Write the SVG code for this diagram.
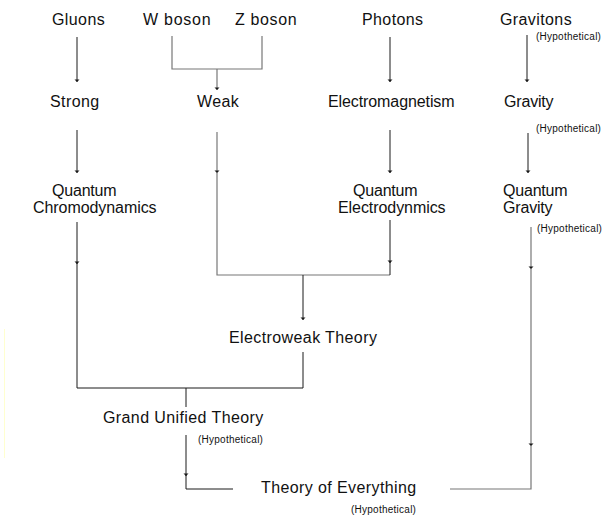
<svg xmlns="http://www.w3.org/2000/svg" width="604" height="515" viewBox="0 0 604 515">
<style>
text{font-family:"Liberation Sans",Arial,sans-serif;fill:#111;letter-spacing:0.4px}
.b{font-size:16px}
.h{font-size:10px;letter-spacing:0.25px}
.k{stroke:#1a1a1a;stroke-width:1;fill:none}
.g{stroke:#777;stroke-width:1.2;fill:none}
</style>
<defs>
<marker id="ah" markerUnits="userSpaceOnUse" markerWidth="6" markerHeight="6" refX="3" refY="3" orient="auto" viewBox="0 0 6 6">
<path d="M0.5,0.5 L3,3 L0.5,5.5 Z" fill="#1a1a1a"/>
</marker>
</defs>
<rect width="604" height="515" fill="#fff"/>
<line x1="4.5" y1="329" x2="4.5" y2="458" stroke="#ffffd0" stroke-width="1"/>
<g id="connectors">
<line class="k" x1="77" y1="37" x2="77" y2="82" marker-end="url(#ah)"/>
<path class="g" d="M172,36 V69 H262 V36"/>
<line class="g" x1="217" y1="69" x2="217" y2="90" marker-end="url(#ah)"/>
<line class="k" x1="390" y1="37" x2="390" y2="82" marker-end="url(#ah)"/>
<line class="k" x1="527" y1="35" x2="527" y2="82" marker-end="url(#ah)"/>
<line class="k" x1="77" y1="130" x2="77" y2="173" marker-end="url(#ah)"/>
<line class="g" x1="217" y1="132" x2="217" y2="173" marker-end="url(#ah)"/>
<path class="g" d="M217,172 V275 H390"/>
<line class="k" x1="390" y1="130" x2="390" y2="173" marker-end="url(#ah)"/>
<line class="k" x1="390" y1="220" x2="390" y2="263" marker-end="url(#ah)"/>
<line class="k" x1="390" y1="262" x2="390" y2="275"/>
<line class="k" x1="528" y1="133" x2="528" y2="173" marker-end="url(#ah)"/>
<line class="k" x1="303" y1="275" x2="303" y2="320" marker-end="url(#ah)"/>
<line class="k" x1="77" y1="222" x2="77" y2="264" marker-end="url(#ah)"/>
<path class="k" d="M77,263 V388 H303 V352"/>
<line class="k" x1="186" y1="388" x2="186" y2="407"/>
<line class="k" x1="186" y1="435" x2="186" y2="476" marker-end="url(#ah)"/>
<path class="k" d="M186,475 V489 H233"/>
<line class="g" x1="531" y1="227" x2="531" y2="269" marker-end="url(#ah)"/>
<line class="g" x1="531" y1="268" x2="531" y2="446" marker-end="url(#ah)"/>
<path class="g" d="M531,445 V489 H450"/>
</g>
<g id="gluons"><text class="b" x="52" y="25">Gluons</text></g>
<g id="wboson"><text class="b" x="143" y="25" textLength="68" lengthAdjust="spacing">W boson</text></g>
<g id="zboson"><text class="b" x="235" y="25" textLength="62" lengthAdjust="spacing">Z boson</text></g>
<g id="photons"><text class="b" x="362" y="25">Photons</text></g>
<g id="gravitons"><text class="b" x="500" y="25">Gravitons</text><text class="h" x="536" y="40">(Hypothetical)</text></g>
<g id="strong"><text class="b" x="50" y="107">Strong</text></g>
<g id="weak"><text class="b" x="197" y="107">Weak</text></g>
<g id="em"><text class="b" x="328" y="107" textLength="127" lengthAdjust="spacing">Electromagnetism</text></g>
<g id="gravity"><text class="b" x="504" y="107" textLength="50" lengthAdjust="spacing">Gravity</text><text class="h" x="536" y="132">(Hypothetical)</text></g>
<g id="qcd"><text class="b" x="52" y="196" textLength="65" lengthAdjust="spacing">Quantum</text><text class="b" x="33" y="213" textLength="124" lengthAdjust="spacing">Chromodynamics</text></g>
<g id="qed"><text class="b" x="353" y="196" textLength="65" lengthAdjust="spacing">Quantum</text><text class="b" x="338" y="213" textLength="108" lengthAdjust="spacing">Electrodynmics</text></g>
<g id="qg"><text class="b" x="503" y="196" textLength="65" lengthAdjust="spacing">Quantum</text><text class="b" x="503" y="213" textLength="50" lengthAdjust="spacing">Gravity</text><text class="h" x="537" y="232">(Hypothetical)</text></g>
<g id="electroweak"><text class="b" x="229" y="343">Electroweak Theory</text></g>
<g id="gut"><text class="b" x="103" y="423">Grand Unified Theory</text><text class="h" x="198" y="443">(Hypothetical)</text></g>
<g id="toe"><text class="b" x="261" y="493">Theory of Everything</text><text class="h" x="351" y="513">(Hypothetical)</text></g>
</svg>
